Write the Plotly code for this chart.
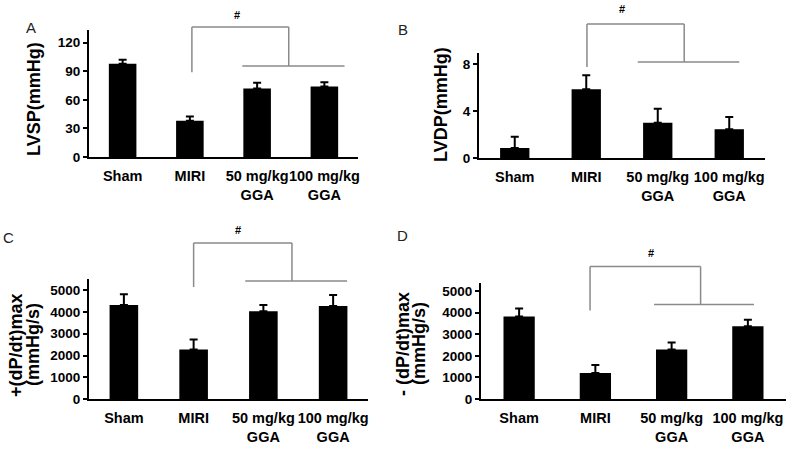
import plotly.graph_objects as go

# ---------------- data ----------------
categories = ["Sham", "MIRI", "50 mg/kg<br>GGA", "100 mg/kg<br>GGA"]

lvsp = [98, 38, 72, 74]
lvsp_err = [4, 4.5, 6, 4.5]

lvdp = [0.85, 5.85, 3.0, 2.45]
lvdp_err = [0.95, 1.2, 1.2, 1.05]

dpdt_pos = [4320, 2280, 4040, 4280]
dpdt_pos_err = [500, 460, 280, 500]

dpdt_neg = [3820, 1200, 2290, 3370]
dpdt_neg_err = [370, 370, 330, 300]

ticks_A = [0, 30, 60, 90, 120]
ticks_B = [0, 4, 8]
ticks_CD = [0, 1000, 2000, 3000, 4000, 5000]

panel_letters = ["A", "B", "C", "D"]
y_titles = [["LVSP(mmHg)"], ["LVDP(mmHg)"], ["+(dP/dt)max", "(mmHg/s)"], ["- (dP/dt)max", "(mmHg/s)"]]
sig_mark = "#"

# ---------------- layout helpers ----------------
FW, FH = 790, 452
def px(x):
    return x / FW
def py(y):
    return 1 - y / FH

FONT = "Liberation Sans, Arial, sans-serif"
BRACKET = "#8a8a8a"

panels = [
    dict(xd=(89, 358), yd=(157, 30), ymax=133.3, ticks=ticks_A, vals=lvsp, errs=lvsp_err,
         br=dict(top=136.5, lbot=89, low=95.5, xl=1.03, xr=2.47, lx0=1.78, lx1=3.3),
         hash=(237, 15), tx=[34], ty=99, letter=(31, 27)),
    dict(xd=(479, 765), yd=(158, 53), ymax=8.94, ticks=ticks_B, vals=lvdp, errs=lvdp_err,
         br=dict(top=11.4, lbot=7.74, low=8.17, xl=1.01, xr=2.37, lx0=1.72, lx1=3.14),
         hash=(622, 9), tx=[441], ty=105, letter=(403, 29)),
    dict(xd=(89, 368), yd=(399, 279), ymax=5517, ticks=ticks_CD, vals=dpdt_pos, errs=dpdt_pos_err,
         br=dict(top=7172, lbot=5149, low=5425, xl=1.0, xr=2.41, lx0=1.74, lx1=3.2),
         hash=(238, 230), tx=[16, 33], ty=345, letter=(8, 237)),
    dict(xd=(481, 786), yd=(399, 283), ymax=5370, ticks=ticks_CD, vals=dpdt_neg, errs=dpdt_neg_err,
         br=dict(top=6129, lbot=4101, low=4378, xl=0.93, xr=2.38, lx0=1.77, lx1=3.08),
         hash=(651, 253), tx=[403, 419], ty=344, letter=(402, 235)),
]

fig = go.Figure()
shapes = []
annotations = []
ncat = len(categories)

for i, p in enumerate(panels):
    n = "" if i == 0 else str(i + 1)
    xa, ya = "x" + n, "y" + n
    fig.add_trace(go.Bar(
        x=categories, y=p["vals"], xaxis=xa, yaxis=ya,
        marker=dict(color="black", line=dict(width=0)), width=0.41,
        error_y=dict(type="data", symmetric=False, array=p["errs"], arrayminus=[0] * ncat,
                     color="black", thickness=2, width=4),
        showlegend=False, hoverinfo="skip",
    ))
    fig.layout["xaxis" + n] = dict(
        domain=[px(p["xd"][0]), px(p["xd"][1])], anchor=ya, type="category",
        range=[-0.5, ncat - 0.5], showline=True, linecolor="black", linewidth=2,
        ticks="", showgrid=False, zeroline=False, fixedrange=True, tickangle=0,
        automargin=False, ticklabelstandoff=5,
        tickfont=dict(family=FONT, size=14.5, color="black", weight="bold"),
    )
    fig.layout["yaxis" + n] = dict(
        domain=[py(p["yd"][0]), py(p["yd"][1])], anchor=xa,
        range=[0, p["ymax"]], showline=True, linecolor="black", linewidth=2,
        ticks="outside", ticklen=4, tickwidth=2, tickcolor="black", automargin=False,
        tickvals=p["ticks"], showgrid=False, zeroline=False, fixedrange=True,
        tickfont=dict(family=FONT, size=13.5, color="black", weight="bold"),
    )
    b = p["br"]
    xr_, yr_ = xa + " domain", ya + " domain"
    cx = lambda c: (c + 0.5) / ncat
    cy = lambda v: v / p["ymax"]
    line = dict(color=BRACKET, width=1.5)
    shapes += [
        dict(type="line", xref=xr_, yref=yr_, x0=cx(b["xl"]), x1=cx(b["xl"]), y0=cy(b["lbot"]), y1=cy(b["top"]), line=line),
        dict(type="line", xref=xr_, yref=yr_, x0=cx(b["xl"]), x1=cx(b["xr"]), y0=cy(b["top"]), y1=cy(b["top"]), line=line),
        dict(type="line", xref=xr_, yref=yr_, x0=cx(b["xr"]), x1=cx(b["xr"]), y0=cy(b["top"]), y1=cy(b["low"]), line=line),
        dict(type="line", xref=xr_, yref=yr_, x0=cx(b["lx0"]), x1=cx(b["lx1"]), y0=cy(b["low"]), y1=cy(b["low"]), line=line),
    ]
    annotations.append(dict(text=sig_mark, x=px(p["hash"][0]), y=py(p["hash"][1]), xref="paper", yref="paper",
                            xanchor="center", yanchor="middle", showarrow=False,
                            font=dict(family=FONT, size=11, color="black", weight="bold")))
    for t, tx in zip(y_titles[i], p["tx"]):
        annotations.append(dict(text=t, x=px(tx), y=py(p["ty"]), xref="paper", yref="paper",
                                showarrow=False, textangle=-90, xanchor="center", yanchor="middle",
                                font=dict(family=FONT, size=18, color="black", weight="bold")))
    annotations.append(dict(text=panel_letters[i], x=px(p["letter"][0]), y=py(p["letter"][1]),
                            xref="paper", yref="paper", showarrow=False,
                            xanchor="center", yanchor="middle",
                            font=dict(family=FONT, size=15, color="#222222")))

fig.update_layout(
    width=FW, height=FH, margin=dict(l=0, r=0, t=0, b=0),
    paper_bgcolor="white", plot_bgcolor="white",
    shapes=shapes, annotations=annotations, bargap=0.59,
)

fig.write_html("out.html", config={"displayModeBar": False},
               post_script="document.body.style.margin='0px';document.body.style.overflow='hidden';")
